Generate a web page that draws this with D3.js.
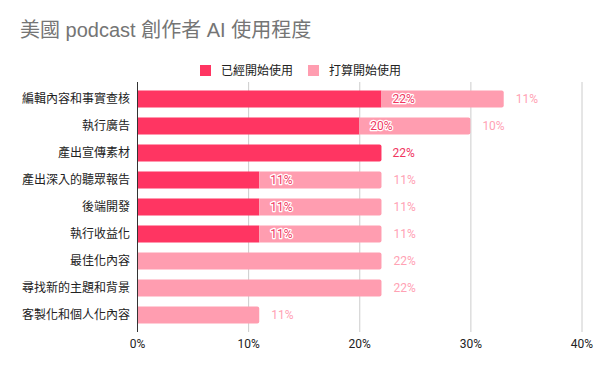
<!DOCTYPE html>
<html>
<head>
<meta charset="utf-8">
<script src="https://cdn.jsdelivr.net/npm/d3@7"></script>
<style>
  html, body { margin: 0; padding: 0; background: #fff; }
  svg { display: block; }
</style>
</head>
<body>
<svg id="chart" width="600" height="371"></svg>
<script>
const title = "美國 podcast 創作者 AI 使用程度";
const categories = ["編輯內容和事實查核","執行廣告","產出宣傳素材","產出深入的聽眾報告","後端開發","執行收益化","最佳化內容","尋找新的主題和背景","客製化和個人化內容"];
const seriesNames = ["已經開始使用","打算開始使用"];
const started = [22,20,22,11,11,11,0,0,0];
const planned = [11,10,0,11,11,11,22,22,11];
const ticks = [0,10,20,30,40];

const colors = ["#ff3562","#ff9db0"];
const labelColors = ["#f0365f","#ffa2b4"];
const cjk = "'Noto Sans CJK TC','Noto Sans',sans-serif";
const titleFont = "'Liberation Sans','Noto Sans CJK TC',sans-serif";
const num = "Roboto,'Noto Sans',sans-serif";

const svg = d3.select("#chart");
const x = d3.scaleLinear().domain([0,40]).range([137,581.5]);
const y = d3.scaleBand().domain(categories).range([85.5,328.5]).paddingInner(0.37).paddingOuter(0.185);

// title
svg.append("text").attr("x",20).attr("y",37).attr("fill","#757575")
  .style("font-family",titleFont).style("font-size","20px").text(title);

// legend
const legX = [200,308];
seriesNames.forEach((n,i)=>{
  svg.append("rect").attr("x",legX[i]).attr("y",65).attr("width",11).attr("height",11).attr("fill",colors[i]);
  svg.append("text").attr("x",legX[i]+21).attr("y",75).attr("fill","#222")
    .style("font-family",cjk).style("font-size","12px").text(n);
});

// gridlines
const grid = svg.append("g");
ticks.forEach(t=>{
  if (t===0) return;
  grid.append("line").attr("x1",x(t)+0.5).attr("x2",x(t)+0.5).attr("y1",82).attr("y2",332)
    .attr("stroke","#cccccc").attr("stroke-width",1);
});

// bars
const bh = y.bandwidth();
function rightRounded(x0,y0,w,h,r){
  r = Math.min(r,w);
  return `M${x0},${y0}H${x0+w-r}Q${x0+w},${y0} ${x0+w},${y0+r}V${y0+h-r}Q${x0+w},${y0+h} ${x0+w-r},${y0+h}H${x0}Z`;
}
categories.forEach((c,i)=>{
  const y0 = y(c);
  const a = started[i], b = planned[i];
  if (a>0) {
    const w = x(a)-x(0);
    if (b>0) svg.append("rect").attr("x",x(0)).attr("y",y0).attr("width",w).attr("height",bh).attr("fill",colors[0]);
    else svg.append("path").attr("d",rightRounded(x(0),y0,w,bh,2)).attr("fill",colors[0]);
  }
  if (b>0) {
    svg.append("path").attr("d",rightRounded(x(a),y0,x(a+b)-x(a),bh,2)).attr("fill",colors[1]);
  }
});

// axis line
svg.append("line").attr("x1",x(0)+0.5).attr("x2",x(0)+0.5).attr("y1",82).attr("y2",332)
  .attr("stroke","#333").attr("stroke-width",1);

// data labels
categories.forEach((c,i)=>{
  const yc = y(c)+bh/2;
  const a = started[i], b = planned[i];
  if (a>0) {
    svg.append("text").attr("x",x(a)+11).attr("y",yc).attr("dy","0.36em")
      .attr("fill",labelColors[0]).attr("stroke","#fff").attr("stroke-width",2.5)
      .attr("stroke-linejoin","round").attr("paint-order","stroke")
      .style("font-family",num).style("font-size","12px").text(a+"%");
  }
  if (b>0) {
    svg.append("text").attr("x",x(a+b)+12).attr("y",yc).attr("dy","0.36em")
      .attr("fill",labelColors[1])
      .style("font-family",num).style("font-size","12px").text(b+"%");
  }
});

// category labels
const yAxis = svg.append("g").attr("transform","translate(130,0)")
  .call(d3.axisLeft(y).tickSize(0).tickPadding(0));
yAxis.select(".domain").remove();
yAxis.selectAll("text").attr("fill","#222").style("font-family",cjk).style("font-size","12px");

// x axis labels
const xAxis = svg.append("g").attr("transform","translate(0,336)")
  .call(d3.axisBottom(x).tickValues(ticks).tickFormat(d=>d+"%").tickSize(0).tickPadding(3));
xAxis.select(".domain").remove();
xAxis.selectAll("text").attr("fill","#222").style("font-family",num).style("font-size","12px");
</script>
</body>
</html>
